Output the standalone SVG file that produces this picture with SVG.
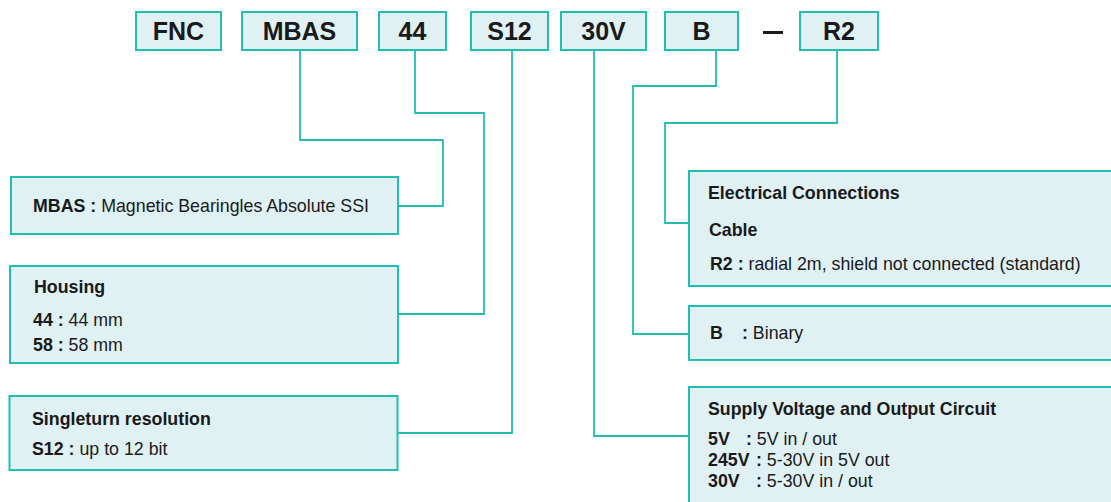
<svg xmlns="http://www.w3.org/2000/svg" width="1111" height="502" viewBox="0 0 1111 502">
<style>
.box{fill:#e0f1f4;stroke:#22bdb1;stroke-width:2}
.con{fill:none;stroke:#22bdb1;stroke-width:1.8}
.code{font-family:"Liberation Sans",Arial,sans-serif;font-size:25px;font-weight:bold;fill:#1a1a1a;text-anchor:middle}
.t{font-family:"Liberation Sans",Arial,sans-serif;font-size:17.8px;fill:#1a1a1a}
.b{font-weight:bold}
</style>
<rect width="1111" height="502" fill="#ffffff"/>
<g id="connectors">
<polyline class="con" points="300,51 300,140 443,140 443,206 398,206"/>
<polyline class="con" points="415,51 415,113 484,113 484,314 398,314"/>
<polyline class="con" points="512,51 512,433 398,433"/>
<polyline class="con" points="594,51 594,436 689,436"/>
<polyline class="con" points="716,51 716,86 633,86 633,334 689,334"/>
<polyline class="con" points="837,51 837,123 665,123 665,223 689,223"/>
</g>
<g id="code-FNC"><rect class="box" x="136" y="12" width="85" height="38"/><text class="code" x="178.5" y="40">FNC</text></g>
<g id="code-MBAS"><rect class="box" x="242" y="12" width="115" height="38"/><text class="code" x="299.5" y="40">MBAS</text></g>
<g id="code-44"><rect class="box" x="379" y="12" width="67" height="38"/><text class="code" x="412.5" y="40">44</text></g>
<g id="code-S12"><rect class="box" x="471" y="12" width="77" height="38"/><text class="code" x="509.5" y="40">S12</text></g>
<g id="code-30V"><rect class="box" x="561" y="12" width="85" height="38"/><text class="code" x="603.5" y="40">30V</text></g>
<g id="code-B"><rect class="box" x="665" y="12" width="73" height="38"/><text class="code" x="701.5" y="40">B</text></g>
<g id="dash"><rect x="763" y="31" width="20" height="3" fill="#1a1a1a"/></g>
<g id="code-R2"><rect class="box" x="800" y="12" width="78" height="38"/><text class="code" x="839" y="40">R2</text></g>
<g id="desc-MBAS"><rect class="box" x="11" y="177" width="387" height="57"/><text class="t" x="33" y="212"><tspan class="b">MBAS :</tspan> Magnetic Bearingles Absolute SSI</text></g>
<g id="desc-housing"><rect class="box" x="10" y="266" width="388" height="97"/>
<text class="t b" x="34" y="293">Housing</text>
<text class="t" x="33" y="326"><tspan class="b">44 :</tspan> 44 mm</text>
<text class="t" x="33" y="351"><tspan class="b">58 :</tspan> 58 mm</text></g>
<g id="desc-singleturn"><rect class="box" x="9.5" y="396" width="388" height="74"/>
<text class="t b" x="32" y="425">Singleturn resolution</text>
<text class="t" x="32" y="455"><tspan class="b">S12 :</tspan> up to 12 bit</text></g>
<g id="desc-electrical"><rect class="box" x="689" y="171" width="430" height="115"/>
<text class="t b" x="708" y="199">Electrical Connections</text>
<text class="t b" x="709" y="236">Cable</text>
<text class="t" x="710" y="270"><tspan class="b">R2 :</tspan> radial 2m, shield not connected (standard)</text></g>
<g id="desc-output"><rect class="box" x="689" y="306" width="430" height="54"/>
<text class="t b" x="710" y="339">B</text><text class="t" x="742" y="339"><tspan class="b">:</tspan> Binary</text></g>
<g id="desc-supply"><rect class="box" x="689" y="387" width="430" height="125"/>
<text class="t b" x="708" y="415">Supply Voltage and Output Circuit</text>
<text class="t b" x="708" y="445">5V</text><text class="t" x="746" y="445"><tspan class="b">:</tspan> 5V in / out</text>
<text class="t b" x="708" y="466">245V</text><text class="t" x="756" y="466"><tspan class="b">:</tspan> 5-30V in 5V out</text>
<text class="t b" x="708" y="487">30V</text><text class="t" x="756" y="487"><tspan class="b">:</tspan> 5-30V in / out</text></g>
</svg>
